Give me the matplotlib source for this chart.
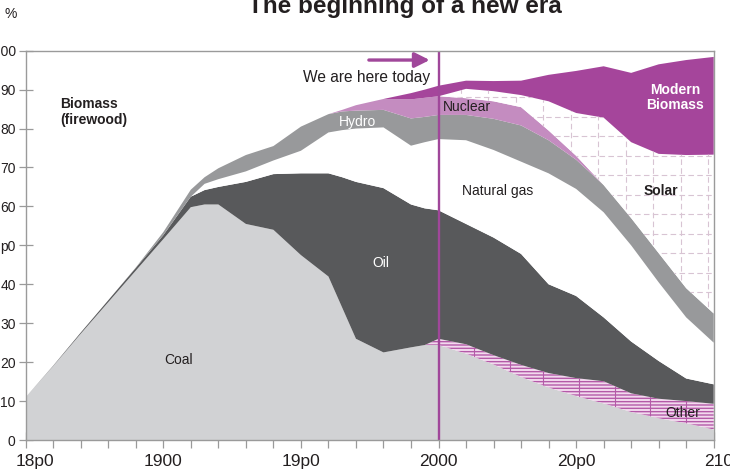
import numpy as np
import matplotlib.pyplot as plt
from matplotlib.ticker import MultipleLocator
from matplotlib.transforms import ScaledTranslation

plt.rcParams['font.family'] = ['Liberation Sans', 'DejaVu Sans']

# shares of world energy supply (%)
years = [1850, 1860, 1870, 1880, 1890, 1900, 1910, 1915, 1920, 1930, 1940, 1950, 1960,
         1965, 1970, 1980, 1990, 1995, 2000, 2010, 2020, 2030, 2040, 2050, 2060, 2070,
         2080, 2090, 2100]
coal = [11, 19, 27.3, 35.4, 43.5, 51.6, 59.8, 60.5, 60.5, 55.5, 54, 47.5, 42,
        34, 26, 22.5, 23.8, 24.4, 24.4, 22.2, 19.4, 16.2, 13.5, 11.3, 9.4, 7.2,
        5.6, 4.3, 2.7]
other = [0] * 18 + [1.6, 2.4, 2.4, 3.1, 3.7, 4.6, 5.7, 4.8, 5.0, 5.7, 6.6]
oil = [0, 0.1, 0.3, 0.5, 0.7, 1.0, 2.7, 3.7, 4.5, 10.8, 14.3, 21, 26.5,
       33.5, 40.3, 42.2, 36.7, 35.1, 33, 30.9, 30.2, 28.5, 22.8, 21.1, 16.4, 13.3,
       9.7, 5.8, 5.0]
gas = [0] * 7 + [1.6, 2.0, 2.7, 3.5, 5.8, 10.5, 12.1, 13.7, 15.6, 15.1, 17.0, 18.3,
                 21.5, 22.5, 23.7, 28.5, 27.5, 27, 24.7, 20.2, 15.7, 10.7]
hydro = [0, 0, 0, 0, 0.1, 0.8, 1.8, 1.7, 2.8, 4.2, 3.7, 6.2, 4.7,
         4.8, 4.6, 4.5, 7.0, 6.5, 6.2, 6.5, 8.0, 9.3, 8.5, 7.5, 7, 7,
         7.5, 7.5, 7.5]
nuclear = [0] * 13 + [0.4, 1.4, 2.8, 4.9, 4.9, 4.8, 4.3, 4.5, 4.7, 2.5, 1.0, 0, 0, 0, 0, 0]
solar = [0] * 19 + [2.4, 2.6, 3.1, 7.5, 11, 17.3, 19.5, 25.5, 34.2, 40.8]
modern_biomass = [0] * 16 + [1.6, 2.1, 2.7, 2.1, 2.6, 3.7, 6.8, 10.8, 13.2, 17.8, 23, 24.4, 25.1]

x_ticks = [1850, 1900, 1950, 2000, 2050, 2100]
x_labels = ['18p0', '1900', '19p0', '2000', '20p0', '2100']
y_ticks = [0, 10, 20, 30, 40, 50, 60, 70, 80, 90, 100]
y_labels = ['0', '10', '20', '30', '40', 'p0', '60', '70', '80', '90', '100']

dark = '#231f20'
purple = '#a0479a'

fig = plt.figure(figsize=(7.3, 4.76), dpi=100)
ax = fig.add_axes([0.0352, 0.0756, 0.9425, 0.8179])

layers = np.array([coal, other, oil, gas, hydro, nuclear, solar, modern_biomass], dtype=float)
tops = np.cumsum(layers, axis=0)
bottoms = np.vstack([np.zeros(len(years)), tops[:-1]])

colors = ['#d1d2d4', '#f2d9ee', '#58595b', 'white', '#98999b', '#c48cc0', 'white', '#a5459b']
polys = []
for i, c in enumerate(colors):
    if i == 1:
        p = ax.fill_between(years, bottoms[i], tops[i], facecolor=c, edgecolor='#b45aa8',
                            hatch='-----', lw=0, zorder=2)
    else:
        p = ax.fill_between(years, bottoms[i], tops[i], facecolor=c, lw=0, zorder=2)
    polys.append(p)

# hatch cross lines of "Other"
other_poly = polys[1]
vl = ax.vlines([2013, 2026, 2038, 2051, 2064, 2077, 2090], 0, 100, color='#b45aa8', lw=0.8, zorder=3)
vl.set_clip_path(other_poly.get_paths()[0], ax.transData)

# dashed grid inside solar
solar_poly = polys[6]
for yv in np.arange(33, 100, 5):
    ln, = ax.plot([2000, 2100], [yv, yv], color='#d8c4d3', lw=0.8, ls=(0, (5, 3)), zorder=3)
    ln.set_clip_path(solar_poly.get_paths()[0], ax.transData)
for xv in range(2008, 2100, 10):
    ln, = ax.plot([xv, xv], [0, 100], color='#d8c4d3', lw=0.8, ls=(0, (5, 3)), zorder=3)
    ln.set_clip_path(solar_poly.get_paths()[0], ax.transData)

ax.axvline(2000, color=purple, lw=1.7, zorder=5)
ax.annotate('', xy=(1996.8, 97.6), xytext=(1974.7, 97.6),
            arrowprops=dict(arrowstyle='-|>,head_length=0.9,head_width=0.45',
                            color=purple, lw=2.4, shrinkA=0, shrinkB=0), zorder=6)
ax.text(1996.8, 93.2, 'We are here today', ha='right', va='center', fontsize=11.2, color=dark)

ax.text(1862.5, 84.3, 'Biomass\n(firewood)', ha='left', va='center', fontsize=10,
        fontweight='bold', color=dark, linespacing=1.15)
ax.text(1970.4, 81.8, 'Hydro', ha='center', va='center', fontsize=10, color='white', zorder=6)
ax.text(2010.5, 85.6, 'Nuclear', ha='center', va='center', fontsize=10, color=dark, zorder=6)
ax.text(2086.1, 88, 'Modern\nBiomass', ha='center', va='center', fontsize=10,
        fontweight='bold', color='white', zorder=6, linespacing=1.15)
ax.text(2021.5, 64, 'Natural gas', ha='center', va='center', fontsize=10, color=dark, zorder=6)
ax.text(2080.8, 64, 'Solar', ha='center', va='center', fontsize=10, fontweight='bold',
        color=dark, zorder=6)
ax.text(1979, 45.5, 'Oil', ha='center', va='center', fontsize=10, color='white', zorder=6)
ax.text(1905.6, 20.6, 'Coal', ha='center', va='center', fontsize=10, color=dark, zorder=6)
ax.text(2088.8, 6.9, 'Other', ha='center', va='center', fontsize=10, color=dark, zorder=6)

ax.set_xlim(1850, 2100)
ax.set_ylim(0, 100)
ax.set_xticks(x_ticks)
ax.set_xticklabels(x_labels)
ax.xaxis.set_minor_locator(MultipleLocator(10))
ax.set_yticks(y_ticks)
ax.set_yticklabels(y_labels)
ax.tick_params(axis='x', which='both', direction='inout', length=11, width=0.9,
               color='#9a9a9a', labelsize=12.5, labelcolor=dark, pad=4.5)
ax.tick_params(axis='y', which='both', direction='inout', length=10, width=0.9,
               color='#9a9a9a', labelsize=10, labelcolor=dark, pad=2.2)
for s in ax.spines.values():
    s.set_color('#9a9a9a')
    s.set_linewidth(1.0)
    s.set_zorder(7)

# end labels sit a little to the right in the original
xl = ax.get_xticklabels()
xl[0].set_transform(xl[0].get_transform() + ScaledTranslation(0.09, 0, fig.dpi_scale_trans))
xl[-1].set_transform(xl[-1].get_transform() + ScaledTranslation(0.10, 0, fig.dpi_scale_trans))

fig.text(10.8 / 730, 1 - 14 / 476, '%', ha='center', va='center', fontsize=10, color=dark)
fig.text(405 / 730, 1 - 13 / 476, 'The beginning of a new era', ha='center', va='baseline',
         fontsize=17.5, fontweight='bold', color=dark)

fig.savefig('out.png', dpi=100)
